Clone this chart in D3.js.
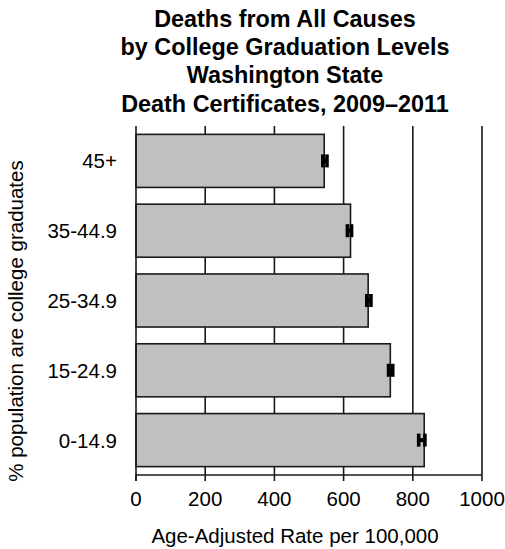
<!DOCTYPE html>
<html>
<head>
<meta charset="utf-8">
<script src="https://cdn.jsdelivr.net/npm/d3@7"></script>
<style>
  html, body { margin: 0; padding: 0; background: #fff; }
  svg { display: block; }
  text { font-family: "Liberation Sans", Arial, sans-serif; fill: #000; }
</style>
</head>
<body>
<script>
// ---- data ----
const categories = ["45+", "35-44.9", "25-34.9", "15-24.9", "0-14.9"];
const rates = [544, 620, 671, 735, 833];
const ciLow = [540, 611, 667, 730, 817];
const ciHigh = [552, 623, 679, 742, 835];
const xTicks = [0, 200, 400, 600, 800, 1000];
const titleLines = ["Deaths from All Causes", "by College Graduation Levels", "Washington State", "Death Certificates, 2009\u20132011"];
const xTitle = "Age-Adjusted Rate per 100,000";
const yTitle = "% population are college graduates";

const W = 505, H = 549;
const svg = d3.select("body").append("svg").attr("width", W).attr("height", H);

const x = d3.scaleLinear().domain([0, 1000]).range([136, 482]);
const y = d3.scaleBand().domain(categories).range([126, 475]).paddingInner(0.24).paddingOuter(0.12);
const ink = "#1a1a1a";

// title
svg.append("g").selectAll("text").data(titleLines).join("text")
  .attr("x", 285).attr("y", (d, i) => 27 + i * 28.2)
  .attr("text-anchor", "middle")
  .style("font-weight", "bold").style("font-size", "23.4px")
  .text(d => d);

// gridlines
svg.append("g").selectAll("line").data(xTicks.filter(d => d > 0)).join("line")
  .attr("x1", d => x(d)).attr("x2", d => x(d))
  .attr("y1", 126).attr("y2", 475)
  .attr("stroke", ink).attr("stroke-width", 1.6);

// bars
svg.append("g").selectAll("rect").data(categories).join("rect")
  .attr("x", x(0)).attr("y", d => y(d))
  .attr("width", (d, i) => x(rates[i]) - x(0))
  .attr("height", y.bandwidth())
  .attr("fill", "#c0c0c0").attr("stroke", ink).attr("stroke-width", 1.6);

// error bars
const eb = svg.append("g");
categories.forEach((c, i) => {
  const cy = y(c) + y.bandwidth() / 2;
  eb.append("line").attr("x1", x(ciLow[i])).attr("x2", x(ciHigh[i]))
    .attr("y1", cy).attr("y2", cy).attr("stroke", "#000").attr("stroke-width", 4);
  [ciLow[i], ciHigh[i]].forEach(v => {
    eb.append("line").attr("x1", x(v)).attr("x2", x(v))
      .attr("y1", cy - 6.5).attr("y2", cy + 6.5)
      .attr("stroke", "#000").attr("stroke-width", 3.6);
  });
});

// x axis
const xa = svg.append("g");
xa.append("line").attr("x1", x(0)).attr("x2", x(1000)).attr("y1", 475).attr("y2", 475)
  .attr("stroke", ink).attr("stroke-width", 1.6);
xa.selectAll("line.tick").data(xTicks).join("line").attr("class", "tick")
  .attr("x1", d => x(d)).attr("x2", d => x(d)).attr("y1", 475).attr("y2", 481)
  .attr("stroke", ink).attr("stroke-width", 1.6);
xa.selectAll("text").data(xTicks).join("text")
  .attr("x", d => x(d)).attr("y", 506)
  .attr("text-anchor", "middle").style("font-size", "20.5px")
  .text(d => d);

// y axis line
svg.append("line").attr("x1", x(0)).attr("x2", x(0)).attr("y1", 126).attr("y2", 481)
  .attr("stroke", ink).attr("stroke-width", 1.6);

// y labels
svg.append("g").selectAll("text").data(categories).join("text")
  .attr("x", 117).attr("y", d => y(d) + y.bandwidth() / 2 + 7.5)
  .attr("text-anchor", "end").style("font-size", "20.5px")
  .text(d => d);

// axis titles
svg.append("text").attr("x", 295).attr("y", 543)
  .attr("text-anchor", "middle").style("font-size", "20.5px").text(xTitle);
svg.append("text").attr("transform", "translate(23,321) rotate(-90)")
  .attr("text-anchor", "middle").style("font-size", "20.5px").text(yTitle);
</script>
</body>
</html>
